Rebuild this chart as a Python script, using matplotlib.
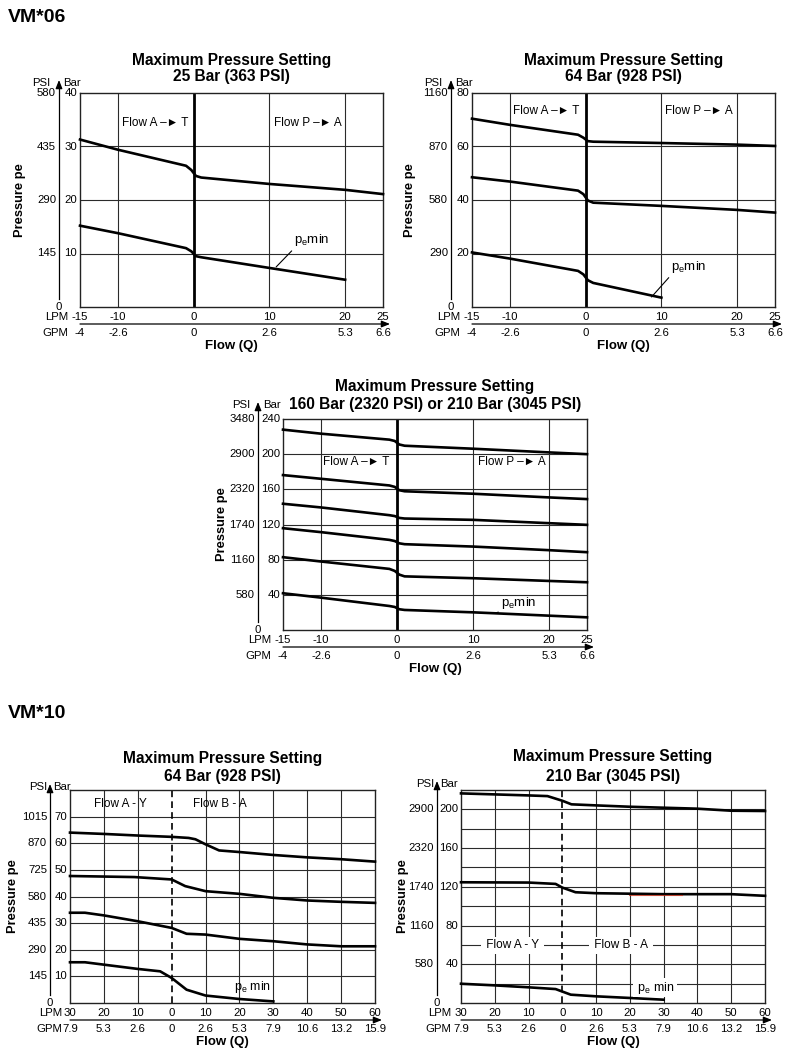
import matplotlib
matplotlib.use("Agg")
import matplotlib.pyplot as plt

plt.rcParams['font.family'] = ['Liberation Sans', 'DejaVu Sans']
plt.rcParams['mathtext.default'] = 'regular'

W, H = 790, 1053

# ---------------- data ----------------
# VM*06 flow axis
lpm06 = [-15, -10, 0, 10, 20, 25]
gpm06 = ['-4', '-2.6', '0', '2.6', '5.3', '6.6']
q06 = [-15, -10, -1, -0.3, 0.3, 1, 10, 20, 25]

# 25 bar setting
bar25_max = [31.3, 29.4, 26.4, 25.6, 24.5, 24.2, 23.0, 21.9, 21.1]
q25_min = [-15, -10, -1, -0.3, 0.3, 1, 10, 20]
bar25_min = [15.2, 13.8, 11.0, 10.4, 9.5, 9.3, 7.3, 5.1]

# 64 bar setting
bar64_max = [70.4, 68.1, 64.4, 63.3, 62.0, 61.8, 61.3, 60.7, 60.2]
bar64_mid = [48.5, 46.9, 43.5, 42.2, 39.8, 39.0, 37.8, 36.3, 35.3]
q64_min = [-15, -10, -1, -0.3, 0.3, 1, 10]
bar64_min = [20.4, 18.1, 13.5, 12.2, 10.0, 9.0, 3.5]

# 160 / 210 bar setting
bar210_1 = [227.9, 223.3, 216.5, 215.0, 211.0, 209.6, 206.2, 202.0, 200.0]
bar210_2 = [176.2, 172.0, 164.4, 162.8, 159.0, 157.8, 155.0, 150.8, 148.9]
bar210_3 = [143.6, 139.4, 130.6, 129.6, 127.5, 126.8, 125.3, 121.5, 119.6]
bar210_4 = [115.8, 111.3, 102.5, 101.2, 98.6, 97.6, 94.9, 90.8, 88.5]
bar210_5 = [82.8, 77.9, 69.5, 67.2, 63.0, 61.0, 58.9, 55.8, 54.3]
bar210_min = [41.8, 36.8, 27.3, 26.2, 23.6, 22.8, 20.1, 16.3, 14.4]

# VM*10 flow axis
lpm10 = [-30, -20, -10, 0, 10, 20, 30, 40, 50, 60]
lpm10_lab = ['30', '20', '10', '0', '10', '20', '30', '40', '50', '60']
gpm10 = ['7.9', '5.3', '2.6', '0', '2.6', '5.3', '7.9', '10.6', '13.2', '15.9']

# VM*10 64 bar
q10a_1 = [-30, -20, -10, 0, 5, 7, 10, 14, 20, 30, 40, 50, 60]
p10a_1 = [64.0, 63.5, 62.9, 62.4, 62.0, 61.5, 59.6, 57.3, 56.7, 55.6, 54.7, 54.0, 53.1]
q10a_2 = [-30, -11, 0, 4, 10, 20, 30, 40, 50, 60]
p10a_2 = [47.7, 47.3, 46.4, 43.9, 42.0, 41.0, 39.5, 38.5, 38.0, 37.6]
q10a_3 = [-30, -25.6, -20, -10, 0, 4.4, 10, 20, 30, 40, 50, 60]
p10a_3 = [33.9, 33.9, 32.9, 30.7, 28.2, 26.0, 25.7, 24.1, 23.2, 22.0, 21.3, 21.3]
q10a_min = [-30, -25.6, -20, -10, -3.4, 0, 4.4, 10, 20, 30]
p10a_min = [15.3, 15.3, 14.4, 12.8, 11.9, 9.4, 5.0, 2.8, 1.5, 0.6]

# VM*10 210 bar
q10b_1 = [-30, -10, -4.4, 0, 2.7, 10, 20, 30, 40, 50, 60]
p10b_1 = [216.5, 214.4, 213.7, 208.9, 205.2, 204.1, 202.7, 201.7, 200.7, 198.6, 198.3]
q10b_2 = [-30, -10, -2, 0, 3.9, 10, 30, 50, 60]
p10b_2 = [124.7, 124.4, 123.0, 119.2, 114.4, 113.4, 112.4, 112.4, 110.7]
q10b_red = [19.7, 35.5]
p10b_red = [112.0, 112.0]
q10b_min = [-30, -20, -10, -2, 2.5, 10, 20, 30]
p10b_min = [19.9, 18.2, 16.2, 14.4, 8.6, 6.9, 5.2, 3.4]

fig = plt.figure(figsize=(W / 100, H / 100), dpi=100)
GRID = '#2b2b2b'
TS = 8.2


def fpx(x, y):
    return x / W, 1 - y / H


def panel(box, title, xlim, ylim, xgrid, ygrid, bars, psis, lpm, lpm_lab, gpm,
          dashed_zero=False, hdr=(-30, -17, 10), arrow_dx=-21, title_y=(61, 76),
          ylab_dx=-60, lpm_dx=-12):
    l, t, r, b = box
    ax = fig.add_axes([l / W, 1 - b / H, (r - l) / W, (b - t) / H])
    ax.set_xlim(*xlim)
    ax.set_ylim(*ylim)
    ax.set_xticks([])
    ax.set_yticks([])
    for s in ax.spines.values():
        s.set_linewidth(1.0)
        s.set_color('#222222')
    for x in xgrid:
        ax.axvline(x, color=GRID, lw=0.8, zorder=1)
    for y in ygrid:
        ax.axhline(y, color=GRID, lw=0.8, zorder=1)
    if dashed_zero:
        ax.axvline(0, color='k', lw=1.2, ls=(0, (4, 2.5)), zorder=2)
    else:
        ax.axvline(0, color='k', lw=2.0, zorder=2)

    # pressure scale: PSI column, arrow, Bar column
    for bv, pv in zip(bars, psis):
        ax.annotate(str(bv), xy=(0, bv), xycoords=('axes fraction', 'data'),
                    xytext=(-3, 0), textcoords='offset pixels',
                    ha='right', va='center', fontsize=TS)
        ax.annotate(str(pv), xy=(0, bv), xycoords=('axes fraction', 'data'),
                    xytext=(arrow_dx - 3, 0), textcoords='offset pixels',
                    ha='right', va='center', fontsize=TS)
    ax.annotate('0', xy=(0, 0), xycoords=('axes fraction', 'data'),
                xytext=(arrow_dx, 0), textcoords='offset pixels',
                ha='center', va='center', fontsize=TS)
    ax_x = l + arrow_dx
    fig.add_artist(plt.Line2D([ax_x / W, ax_x / W], [1 - (b - 8) / H, 1 - (t - hdr[2] + 4) / H],
                              color='k', lw=0.9))
    ax.annotate('', xy=(ax_x, H - (t - hdr[2] - 3)), xycoords='figure pixels',
                xytext=(ax_x, H - (t - hdr[2] + 5)), textcoords='figure pixels',
                arrowprops=dict(arrowstyle='-|>,head_length=0.5,head_width=0.2',
                                color='k', lw=0.9, shrinkA=0, shrinkB=0))
    fig.text(*fpx(l + hdr[0], t - hdr[2]), 'PSI', ha='right', va='center', fontsize=TS)
    fig.text(*fpx(l + hdr[1], t - hdr[2]), 'Bar', ha='left', va='center', fontsize=TS)
    fig.text(*fpx(l + ylab_dx, (t + b) / 2), 'Pressure pe', rotation=90, ha='center',
             va='center', fontsize=9.3, fontweight='bold')

    # flow scale: LPM row, arrow, GPM row
    for xv, lab, g in zip(lpm, lpm_lab, gpm):
        ax.annotate(lab, xy=(xv, 0), xycoords=('data', 'axes fraction'),
                    xytext=(0, -10), textcoords='offset pixels',
                    ha='center', va='center', fontsize=TS)
        ax.annotate(g, xy=(xv, 0), xycoords=('data', 'axes fraction'),
                    xytext=(0, -26), textcoords='offset pixels',
                    ha='center', va='center', fontsize=TS)
    fig.text(*fpx(l + lpm_dx, b + 10), 'LPM', ha='right', va='center', fontsize=TS)
    fig.text(*fpx(l + lpm_dx, b + 26), 'GPM', ha='right', va='center', fontsize=TS)
    ax.annotate('', xy=(r + 7, H - (b + 17)), xycoords='figure pixels',
                xytext=(l, H - (b + 17)), textcoords='figure pixels',
                arrowprops=dict(arrowstyle='-|>,head_length=0.5,head_width=0.2',
                                color='k', lw=0.9, shrinkA=0, shrinkB=0))
    fig.text(*fpx((l + r) / 2, b + 39), 'Flow (Q)', ha='center', va='center',
             fontsize=9.5, fontweight='bold')

    fig.text(*fpx((l + r) / 2, title_y[0]), title[0], ha='center', va='center',
             fontsize=11.2, fontweight='bold')
    fig.text(*fpx((l + r) / 2, title_y[1]), title[1], ha='center', va='center',
             fontsize=11.2, fontweight='bold')
    return ax


def curve(ax, x, y):
    ax.plot(x, y, color='k', lw=1.9, solid_joinstyle='round', zorder=3, clip_on=False)


arrow_txt = '\u2013\u25BA'

# ---- VM*06, 25 bar ----
ax1 = panel((80, 93, 383, 307), ('Maximum Pressure Setting', '25 Bar (363 PSI)'),
            (-15, 25), (0, 40), [-10, 10, 20], [10, 20, 30],
            [10, 20, 30, 40], [145, 290, 435, 580],
            lpm06, [str(v) for v in lpm06], gpm06)
curve(ax1, q06, bar25_max)
curve(ax1, q25_min, bar25_min)
ax1.text(-5.1, 34.4, 'Flow A ' + arrow_txt + ' T', ha='center', va='center', fontsize=8.5)
ax1.text(15.1, 34.4, 'Flow P ' + arrow_txt + ' A', ha='center', va='center', fontsize=8.5)
ax1.annotate(r'p$_e$min', xy=(10.9, 7.5), xytext=(13.3, 12.5), fontsize=9.5,
             ha='left', va='center',
             arrowprops=dict(arrowstyle='-', color='k', lw=0.8, relpos=(0, 0),
                             shrinkA=0, shrinkB=0))

# ---- VM*06, 64 bar ----
ax2 = panel((472, 93, 775, 307), ('Maximum Pressure Setting', '64 Bar (928 PSI)'),
            (-15, 25), (0, 80), [-10, 10, 20], [20, 40, 60],
            [20, 40, 60, 80], [290, 580, 870, 1160],
            lpm06, [str(v) for v in lpm06], gpm06, ylab_dx=-62)
curve(ax2, q06, bar64_max)
curve(ax2, q06, bar64_mid)
curve(ax2, q64_min, bar64_min)
ax2.text(-5.2, 73.5, 'Flow A ' + arrow_txt + ' T', ha='center', va='center', fontsize=8.5)
ax2.text(15.0, 73.5, 'Flow P ' + arrow_txt + ' A', ha='center', va='center', fontsize=8.5)
ax2.annotate(r'p$_e$min', xy=(8.7, 3.75), xytext=(11.3, 15.0), fontsize=9.5,
             ha='left', va='center',
             arrowprops=dict(arrowstyle='-', color='k', lw=0.8, relpos=(0, 0),
                             shrinkA=0, shrinkB=0))

# ---- VM*06, 160 / 210 bar ----
ax3 = panel((283, 419, 587, 630),
            ('Maximum Pressure Setting', '160 Bar (2320 PSI) or 210 Bar (3045 PSI)'),
            (-15, 25), (0, 240), [-10, 10, 20], [40, 80, 120, 160, 200],
            [40, 80, 120, 160, 200, 240], [580, 1160, 1740, 2320, 2900, 3480],
            lpm06, [str(v) for v in lpm06], gpm06,
            hdr=(-33, -20, 14), arrow_dx=-25, title_y=(386, 405), ylab_dx=-61)
for ys in (bar210_1, bar210_2, bar210_3, bar210_4, bar210_5, bar210_min):
    curve(ax3, q06, ys)
ax3.text(-5.4, 191.8, 'Flow A ' + arrow_txt + ' T', ha='center', va='center', fontsize=8.5)
ax3.text(15.1, 191.8, 'Flow P ' + arrow_txt + ' A', ha='center', va='center', fontsize=8.5)
ax3.annotate(r'p$_e$min', xy=(13.1, 19.7), xytext=(13.7, 30.4), fontsize=9.5,
             ha='left', va='center',
             arrowprops=dict(arrowstyle='-', color='k', lw=0.8, relpos=(0, 0),
                             shrinkA=0, shrinkB=0))

# ---- VM*10, 64 bar ----
ax4 = panel((70, 790, 375, 1003), ('Maximum Pressure Setting', '64 Bar (928 PSI)'),
            (-30, 60), (0, 80), [-20, -10, 10, 20, 30, 40, 50], list(range(10, 80, 10)),
            list(range(10, 80, 10)), [145, 290, 435, 580, 725, 870, 1015],
            lpm10, lpm10_lab, gpm10, dashed_zero=True,
            hdr=(-23, -17, 3), arrow_dx=-20, title_y=(759, 777), ylab_dx=-57, lpm_dx=-8)
curve(ax4, q10a_1, p10a_1)
curve(ax4, q10a_2, p10a_2)
curve(ax4, q10a_3, p10a_3)
curve(ax4, q10a_min, p10a_min)
ax4.text(-15.2, 74.7, 'Flow A - Y', ha='center', va='center', fontsize=8.5)
ax4.text(14.3, 74.7, 'Flow B - A', ha='center', va='center', fontsize=8.5)
ax4.text(23.8, 6.0, r'p$_e$ min', ha='center', va='center', fontsize=9)

# ---- VM*10, 210 bar ----
ax5 = panel((461, 790, 765, 1003), ('Maximum Pressure Setting', '210 Bar (3045 PSI)'),
            (-30, 60), (0, 220), [-20, -10, 10, 20, 30, 40, 50], list(range(20, 220, 20)),
            [40, 80, 120, 160, 200], [580, 1160, 1740, 2320, 2900],
            lpm10, lpm10_lab, gpm10, dashed_zero=True,
            hdr=(-27, -21, 6), arrow_dx=-24, title_y=(757, 776), ylab_dx=-58, lpm_dx=-10)
curve(ax5, q10b_1, p10b_1)
curve(ax5, q10b_2, p10b_2)
ax5.plot(q10b_red, p10b_red, color='#c8341c', lw=0.8, alpha=0.8, zorder=4)
curve(ax5, q10b_min, p10b_min)
wb = dict(facecolor='white', edgecolor='none', pad=1.5)
ax5.text(-14.8, 59.5, ' Flow A - Y ', ha='center', va='center', fontsize=8.5, bbox=wb, zorder=4)
ax5.text(17.3, 59.5, ' Flow B - A ', ha='center', va='center', fontsize=8.5, bbox=wb, zorder=4)
ax5.text(27.4, 16.0, r' p$_e$ min ', ha='center', va='center', fontsize=9, zorder=4,
         bbox=dict(facecolor='white', edgecolor='none', pad=1.0))

fig.text(*fpx(8, 18), 'VM*06', ha='left', va='center', fontsize=14, fontweight='bold')
fig.text(*fpx(8, 713), 'VM*10', ha='left', va='center', fontsize=14, fontweight='bold')

fig.savefig('out.png', dpi=100)
